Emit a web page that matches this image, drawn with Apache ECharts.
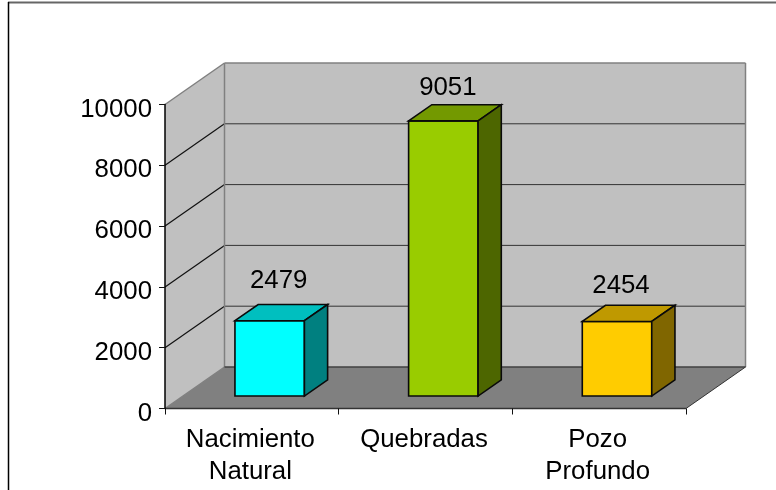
<!DOCTYPE html>
<html><head><meta charset="utf-8">
<style>html,body{margin:0;padding:0;background:#fff}#c{width:776px;height:490px}</style>
<script src="https://cdn.jsdelivr.net/npm/echarts@6/dist/echarts.min.js"></script>
</head><body><div id="c"></div>
<script>
const categories = ['Nacimiento\nNatural', 'Quebradas', 'Pozo\nProfundo'];
const values = [2479, 9051, 2454];
const yTicks = [0, 2000, 4000, 6000, 8000, 10000];
const faceColors = ['#00FFFF', '#99CC00', '#FFCC00'];
const topColors = ['#00BFBF', '#739900', '#BF9900'];
const sideColors = ['#008080', '#4D6600', '#806600'];
const labelLift = [40, 33, 36];
const labelShift = [9, 4.5, 4];

const FONT = '"Liberation Sans", Arial, sans-serif';
const DX = 59.5, DY = -41.5;      // full depth of the 3D box, in pixels
const BAR_NEAR = 0.3, BAR_DEPTH = 0.39, BAR_W = 0.4;
const pt = (p, d) => [p[0] + DX * d, p[1] + DY * d];
const poly = (points, fill, stroke, lw) => ({
  type: 'polygon', shape: { points },
  style: { fill, stroke: stroke || 'none', lineWidth: lw || 0 }
});
const seg = (a, b, stroke, lw) => ({
  type: 'line', shape: { x1: a[0], y1: a[1], x2: b[0], y2: b[1] },
  style: { stroke, lineWidth: lw }
});

function renderFrame(params, api) {
  const n = categories.length;
  const band = api.size([1, 0])[0];
  const c0 = api.coord([0, 0]), cTop = api.coord([0, yTicks[yTicks.length - 1]]);
  const x0 = c0[0] - band / 2, x1 = x0 + band * n;
  const bl = [x0, c0[1]], tl = [x0, cTop[1]], br = [x1, c0[1]], tr = [x1, cTop[1]];
  const children = [
    poly([bl, tl, pt(tl, 1), pt(bl, 1)], '#C0C0C0'),
    poly([pt(bl, 1), pt(tl, 1), pt(tr, 1), pt(br, 1)], '#C0C0C0'),
    poly([bl, pt(bl, 1), pt(br, 1), br], '#808080')
  ];
  yTicks.slice(1, -1).forEach(t => {
    const y = api.coord([0, t])[1];
    children.push(seg([x0, y], pt([x0, y], 1), '#111111', 1.2));
    children.push(seg(pt([x0, y], 1), pt([x1, y], 1), '#333333', 1));
  });
  children.push(seg(tl, pt(tl, 1), '#808080', 1.5));
  children.push(seg(pt(tl, 1), pt(tr, 1), '#808080', 1.5));
  children.push(seg(pt(tl, 1), pt(bl, 1), '#808080', 1.5));
  children.push(seg(pt(tr, 1), pt(br, 1), '#808080', 1.5));
  children.push(seg(bl, pt(bl, 1), '#808080', 1.5));
  children.push(seg(pt(bl, 1), pt(br, 1), '#404040', 1.5));
  children.push(seg(br, pt(br, 1), '#333333', 1));
  children.push(seg(bl, br, '#333333', 1.5));
  return { type: 'group', children };
}

function renderBar(params, api) {
  const i = api.value(0), v = api.value(1);
  const w = api.size([1, 0])[0] * BAR_W;
  const top = api.coord([i, v]), bot = api.coord([i, 0]);
  const a = pt([top[0] - w / 2, top[1]], BAR_NEAR), b = pt([top[0] + w / 2, top[1]], BAR_NEAR);
  const c = pt([bot[0] + w / 2, bot[1]], BAR_NEAR), d = pt([bot[0] - w / 2, bot[1]], BAR_NEAR);
  const S = '#0a0a0a', L = 1.6;
  return { type: 'group', children: [
    poly([a, b, c, d], faceColors[i], S, L),
    poly([a, pt(a, BAR_DEPTH), pt(b, BAR_DEPTH), b], topColors[i], S, L),
    poly([b, pt(b, BAR_DEPTH), pt(c, BAR_DEPTH), c], sideColors[i], S, L),
    { type: 'text', style: {
        x: (a[0] + b[0]) / 2 + labelShift[i], y: a[1] - labelLift[i], text: String(v),
        font: '25.8px ' + FONT, fill: '#000', align: 'center', verticalAlign: 'middle' } }
  ] };
}

const chart = echarts.init(document.getElementById('c'), null, { renderer: 'canvas' });
chart.setOption({
  animation: false,
  backgroundColor: '#fff',
  graphic: [
    { type: 'line', shape: { x1: 8, y1: 2.5, x2: 776, y2: 2.5 }, style: { stroke: '#666', lineWidth: 2 } },
    { type: 'line', shape: { x1: 8.5, y1: 2, x2: 8.5, y2: 490 }, style: { stroke: '#000', lineWidth: 1.5 } }
  ],
  grid: { left: 165, top: 104.5, width: 521, height: 304, containLabel: false },
  xAxis: {
    type: 'category', data: categories, z: 5,
    axisLine: { show: false },
    axisTick: { show: true, length: 6, inside: false, alignWithLabel: false, lineStyle: { color: '#111', width: 1 } },
    axisLabel: { fontFamily: FONT, fontSize: 25.8, color: '#000', lineHeight: 32, margin: 15, interval: 0,
      formatter: s => s, padding: [0, 3, 0, 0] }
  },
  yAxis: {
    type: 'value', min: 0, max: 10000, interval: 2000, z: 5,
    axisLine: { show: true, lineStyle: { color: '#000', width: 1.5 } },
    axisTick: { show: true, length: 6, lineStyle: { color: '#111', width: 1 } },
    splitLine: { show: false },
    axisLabel: { fontFamily: FONT, fontSize: 25.8, color: '#000', margin: 13, verticalAlign: 'top', lineHeight: 10,
      formatter: v => String(v) }
  },
  series: [
    { type: 'custom', clip: false, silent: true, z: 1, renderItem: renderFrame, data: [[0, 0]],
      encode: { x: 0, y: 1 } },
    { type: 'custom', clip: false, silent: true, z: 2, renderItem: renderBar,
      data: values.map((v, i) => [i, v]), encode: { x: 0, y: 1 } }
  ]
});
</script></body></html>
